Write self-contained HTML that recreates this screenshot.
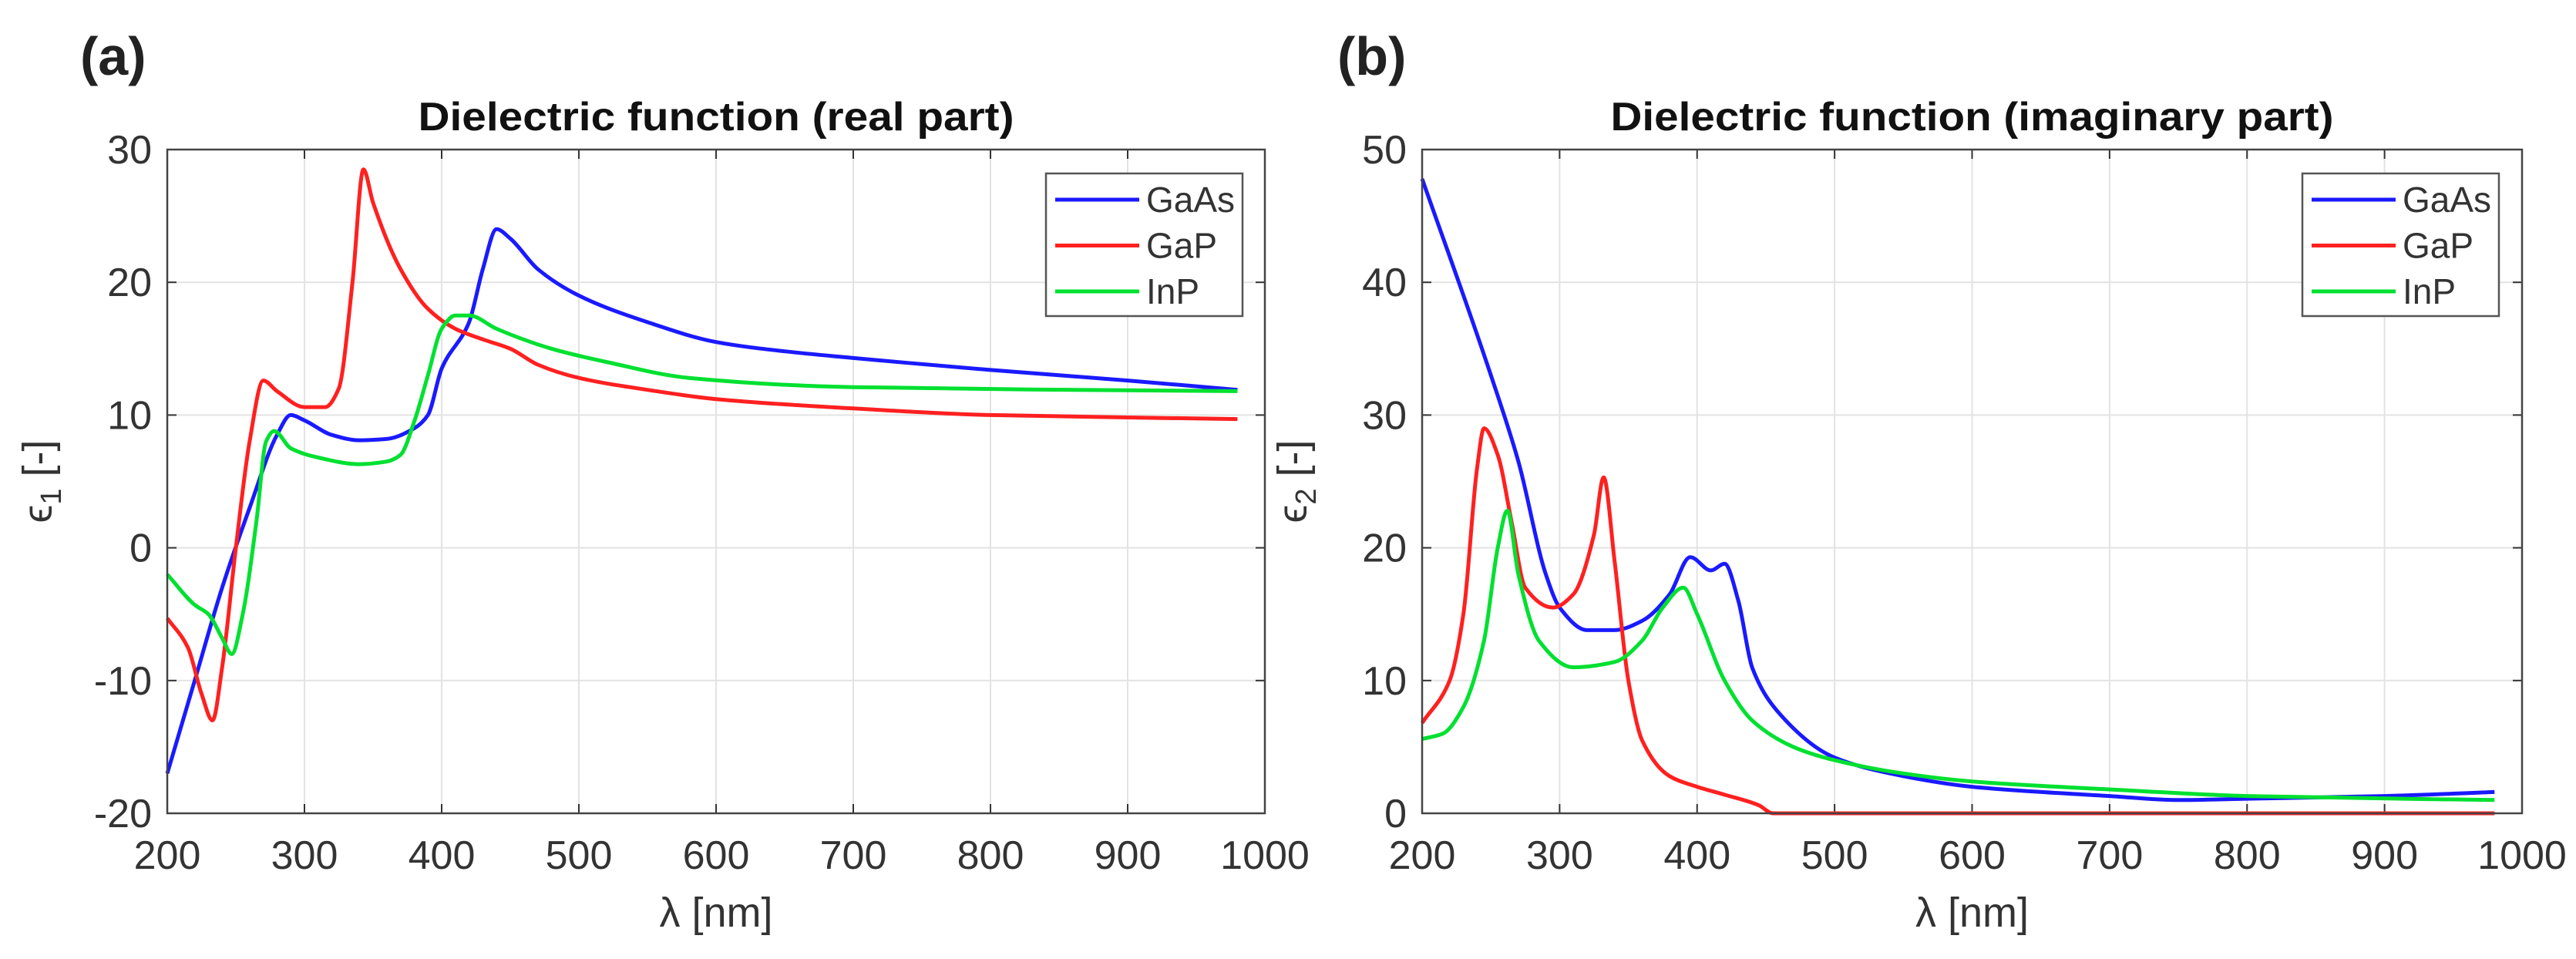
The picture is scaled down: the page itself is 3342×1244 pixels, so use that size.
<!DOCTYPE html>
<html><head><meta charset="utf-8"><style>
body{margin:0;background:#fff;overflow:hidden;}
svg text{font-family:"Liberation Sans",sans-serif;}
</style></head><body>
<svg id="fig" width="3342" height="1244" xmlns="http://www.w3.org/2000/svg" style="display:block">
<text x="104" y="97" font-size="70" font-weight="bold" fill="#222">(a)</text>
<text x="1735" y="97" font-size="70" font-weight="bold" fill="#222">(b)</text>
<g id="pa"></g>
<g id="pb"></g>
</svg>
<script>
const xTicks=[200,300,400,500,600,700,800,900,1000];
const yTicksA=[-20,-10,0,10,20,30];
const yTicksB=[0,10,20,30,40,50];
const seriesNames=["GaAs","GaP","InP"];
const seriesColors=["#1a1aff","#ff2020","#00e030"];
const gaasRealX=[200,220,240,260,280,290,300,320,340,360,380,390,400,420,430,440,450,470,500,550,600,650,700,800,900,980];
const gaasRealY=[-17,-10,-3,3,8.5,10,9.6,8.5,8.1,8.2,9,10,13.5,17,21,24,23.3,21,19,17,15.5,14.8,14.3,13.4,12.6,11.9];
const gapRealX=[200,215,225,233,240,250,260,270,280,300,315,325,335,343,350,370,390,410,430,450,470,500,550,600,700,800,980];
const gapRealY=[-5.3,-7.5,-11,-13,-9,0,8,12.6,11.8,10.6,10.6,12,20,28.5,26,21,18,16.5,15.7,15,13.8,12.8,11.9,11.2,10.5,10,9.7];
const inpRealX=[200,220,230,240,247,255,265,272,278,290,310,340,360,370,380,390,400,410,420,440,480,520,580,700,980];
const inpRealY=[-2,-4.3,-5,-6.8,-8,-5,2,8,8.8,7.5,6.8,6.3,6.5,7,9.5,13,16.5,17.5,17.5,16.5,15,14,12.8,12.1,11.8];
const gaasImagX=[200,250,270,290,300,320,340,360,380,395,410,420,430,440,460,500,550,600,700,750,800,900,980];
const gaasImagY=[47.8,33,26.5,18,15.5,13.8,13.8,14.5,16.5,19.3,18.3,18.8,16,11,7.5,4.2,2.8,2,1.3,1,1.1,1.3,1.6];
const gapImagX=[200,220,230,240,245,255,265,275,295,310,325,332,340,350,360,380,400,420,445,455,600,800,980];
const gapImagY=[6.8,10,15,26,29,27,22,17,15.5,16.5,21,25.3,19,10,5.5,2.8,2,1.4,0.6,0,0,0,0];
const inpImagX=[200,215,230,245,255,262,270,285,310,340,360,375,390,400,420,440,470,500,550,600,700,800,980];
const inpImagY=[5.6,6,8,13,20,22.8,18,13,11,11.4,13,15.5,17,15,10,7,5,4,3,2.4,1.8,1.3,1];
const NS="http://www.w3.org/2000/svg";
function mk(tag,attrs,parent){const e=document.createElementNS(NS,tag);for(const k in attrs){e.setAttribute(k,attrs[k]);}parent.appendChild(e);return e;}
function monoPath(pts){
  const n=pts.length,dx=[],m=[],t=[];
  for(let i=0;i<n-1;i++){dx[i]=pts[i+1][0]-pts[i][0];m[i]=(pts[i+1][1]-pts[i][1])/dx[i];}
  t[0]=m[0];t[n-1]=m[n-2];
  for(let i=1;i<n-1;i++){
    if(m[i-1]*m[i]<=0){t[i]=0;}
    else{const w1=2*dx[i]+dx[i-1],w2=dx[i]+2*dx[i-1];t[i]=(w1+w2)/(w1/m[i-1]+w2/m[i]);}
  }
  let d="M"+pts[0][0].toFixed(1)+","+pts[0][1].toFixed(1);
  for(let i=0;i<n-1;i++){
    const h=dx[i]/3;
    d+=" C"+(pts[i][0]+h).toFixed(1)+","+(pts[i][1]+t[i]*h).toFixed(1)+" "+(pts[i+1][0]-h).toFixed(1)+","+(pts[i+1][1]-t[i+1]*h).toFixed(1)+" "+pts[i+1][0].toFixed(1)+","+pts[i+1][1].toFixed(1);
  }
  return d;
}
function draw(g,L,R,T,B,ymin,ymax,yTicks,title,titleW,sub,data,legX){
  const sx=function(v){return L+(v-200)/800*(R-L);};
  const sy=function(v){return B-(v-ymin)/(ymax-ymin)*(B-T);};
  xTicks.forEach(function(t){
    const l=mk('line',{x1:sx(t),x2:sx(t),y1:T,y2:B,stroke:'#e3e3e3','stroke-width':2},g);
    
    
    const tx=mk('text',{x:sx(t),y:1127,'font-size':52,'text-anchor':'middle',fill:'#333'},g);
    tx.textContent=String(t);
    
    
    mk('line',{x1:sx(t),x2:sx(t),y1:B,y2:B-12,stroke:'#333','stroke-width':2},g);
    mk('line',{x1:sx(t),x2:sx(t),y1:T,y2:T+12,stroke:'#333','stroke-width':2},g);
  });
  yTicks.forEach(function(t){
    const l=mk('line',{x1:L,x2:R,y1:sy(t),y2:sy(t),stroke:'#e3e3e3','stroke-width':2},g);
    
    
    const tx=mk('text',{x:L-20,y:sy(t)+18,'font-size':52,'text-anchor':'end',fill:'#333'},g);
    tx.textContent=String(t);
    
    
    mk('line',{x1:L,x2:L+12,y1:sy(t),y2:sy(t),stroke:'#333','stroke-width':2},g);
    mk('line',{x1:R,x2:R-12,y1:sy(t),y2:sy(t),stroke:'#333','stroke-width':2},g);
  });
  data.forEach(function(d,i){
    const pts=d[0].map(function(x,j){return [sx(x),sy(d[1][j])];});
    const p=mk('path',{d:monoPath(pts),fill:'none',stroke:seriesColors[i],'stroke-width':5,'stroke-linejoin':'round'},g);
    
    
  });
  const fr=mk('rect',{x:L,y:T,width:R-L,height:B-T,fill:'none',stroke:'#444','stroke-width':2.5},g);
  
  
  const ti=mk('text',{x:(L+R)/2,y:169,'font-size':52,'font-weight':'bold','text-anchor':'middle',fill:'#111',textLength:titleW,lengthAdjust:'spacingAndGlyphs'},g);
  ti.textContent=title;
  
  
  const xl=mk('text',{x:(L+R)/2,y:1202,'font-size':54,'text-anchor':'middle',fill:'#333'},g);
  xl.textContent='λ [nm]';
  
  
  const yl=mk('text',{x:0,y:0,'font-size':54,'text-anchor':'middle',fill:'#333',transform:'translate('+(L-150)+','+((T+B)/2)+') rotate(-90)'},g);
  
  
  const s1=mk('tspan',{},yl);s1.textContent='ϵ';
  const s2=mk('tspan',{'font-size':38,dy:12},yl);s2.textContent=sub;
  const s3=mk('tspan',{dy:-12},yl);s3.textContent=' [-]';
  const lg=mk('g',{},g);
  
  
  mk('rect',{x:legX,y:225,width:255,height:185,fill:'#fff',stroke:'#555','stroke-width':2.5},lg);
  seriesNames.forEach(function(n,i){
    const y=259+i*59.5;
    mk('line',{x1:legX+12,x2:legX+121,y1:y,y2:y,stroke:seriesColors[i],'stroke-width':5},lg);
    const t=mk('text',{x:legX+130,y:y+16,'font-size':46,fill:'#333'},lg);
    t.textContent=n;
    
    
  });
}
draw(document.getElementById('pa'),217,1641,194,1055,-20,30,yTicksA,'Dielectric function (real part)',773,'1',
 [[gaasRealX,gaasRealY],[gapRealX,gapRealY],[inpRealX,inpRealY]],1357);
draw(document.getElementById('pb'),1845,3272,194,1055,0,50,yTicksB,'Dielectric function (imaginary part)',938,'2',
 [[gaasImagX,gaasImagY],[gapImagX,gapImagY],[inpImagX,inpImagY]],2987);
</script>
</body></html>
